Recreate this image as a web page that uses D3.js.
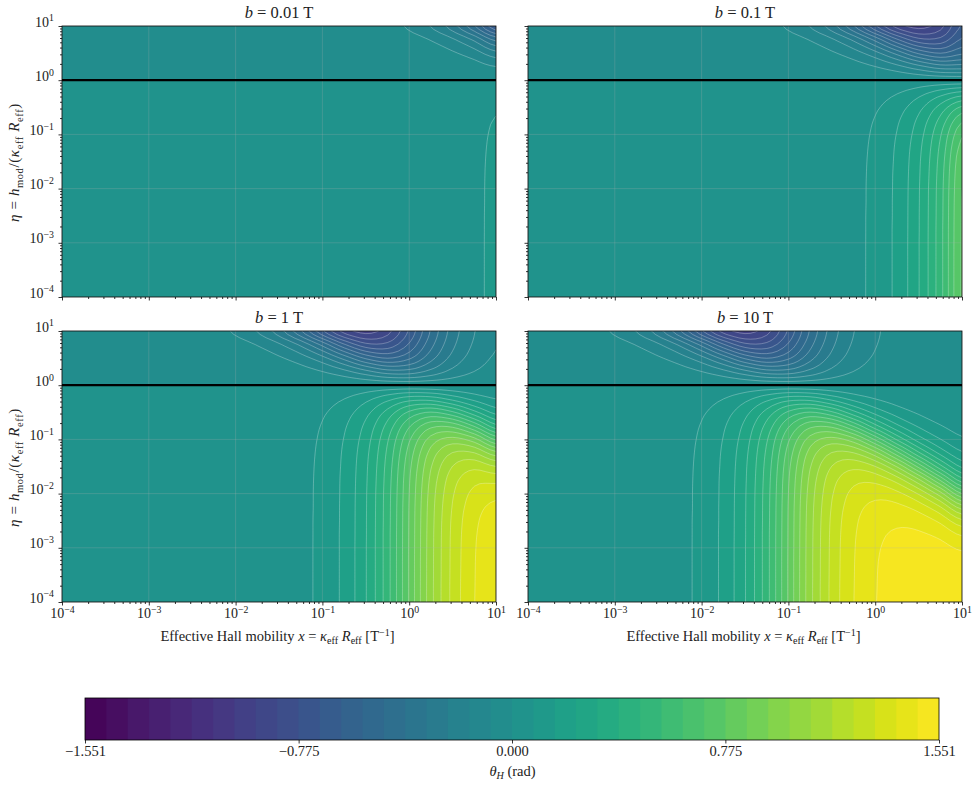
<!DOCTYPE html>
<html>
<head>
<meta charset="utf-8">
<script src="https://cdn.jsdelivr.net/npm/d3@7"></script>
<style>
  html, body { margin: 0; padding: 0; background: #fff; }
  svg { display: block; }
  text { font-family: "Liberation Serif", "DejaVu Serif", serif; fill: #222; }
  .domain { display: none; }
  .tick line { stroke: #000; stroke-width: 0.8; }
</style>
</head>
<body>
<svg id="fig" width="976" height="787"></svg>
<script>
// Field strengths of the four panels, as powers of ten and as titles.
const panelFieldExps = [-2, -1, 0, 1];
const panelFieldLabels = ["0.01", "0.1", "1", "10"];

// Sampling of the surface, in decades.
const etaExps = d3.range(21).map(i => -4 + i * 0.25);
const xExps = d3.range(21).map(i => -4 + i * 0.25);
const productExpStart = -3;   // first column of thetaRows: log10(b·x)
const productExpStep = 0.25;

// Hall angle in radians. Rows follow etaExps, columns run over log10(b·x) from -3 to 2.
const thetaRows = [
  [.001,.0018,.0032,.0056,.01,.0178,.0316,.0562,.0997,.176,.306,.512,.785,1.059,1.264,1.394,1.470,1.513,1.536,1.547,1.551],
  [.001,.0018,.0032,.0056,.01,.0178,.0316,.0562,.0997,.176,.306,.512,.785,1.059,1.264,1.393,1.469,1.511,1.533,1.543,1.543],
  [.001,.0018,.0032,.0056,.01,.0178,.0316,.0562,.0997,.176,.306,.512,.785,1.058,1.263,1.392,1.468,1.509,1.529,1.535,1.529],
  [.001,.0018,.0032,.0056,.01,.0178,.0316,.0562,.0997,.176,.306,.512,.785,1.058,1.262,1.391,1.466,1.505,1.521,1.521,1.505],
  [.001,.0018,.0032,.0056,.01,.0178,.0316,.0562,.0997,.176,.306,.512,.784,1.057,1.261,1.389,1.461,1.497,1.508,1.497,1.461],
  [.001,.0018,.0032,.0056,.01,.0178,.0316,.0561,.0996,.176,.305,.512,.783,1.056,1.259,1.385,1.453,1.483,1.483,1.453,1.385],
  [.001,.0018,.0032,.0056,.01,.0177,.0315,.056,.0995,.175,.305,.510,.782,1.053,1.255,1.377,1.440,1.458,1.440,1.377,1.255],
  [.001,.0018,.0031,.0056,.0099,.0177,.0314,.0558,.0988,.175,.304,.509,.780,1.049,1.246,1.363,1.415,1.415,1.363,1.246,1.049],
  [.001,.0018,.0031,.0056,.0099,.0176,.0313,.0556,.0987,.174,.303,.507,.775,1.041,1.232,1.339,1.371,1.339,1.232,1.041,.775],
  [.001,.0017,.0031,.0055,.0098,.0175,.031,.0552,.098,.173,.300,.502,.768,1.027,1.208,1.295,1.295,1.208,1.026,.767,.502],
  [.001,.0017,.0031,.0054,.0097,.0172,.0306,.0544,.0965,.170,.296,.494,.754,1.002,1.165,1.219,1.165,1.002,.754,.494,.296],
  [.0009,.0017,.003,.0053,.0094,.0168,.0298,.053,.094,.166,.288,.480,.729,.959,1.089,1.088,.959,.729,.481,.288,.166],
  [.0009,.0016,.0028,.0051,.009,.016,.0284,.0506,.0897,.158,.274,.456,.686,.883,.958,.883,.686,.456,.274,.158,.0897],
  [.0008,.0015,.0026,.0046,.0082,.0146,.026,.0462,.0818,.1445,.250,.412,.609,.752,.751,.609,.412,.250,.144,.0817,.046],
  [.0007,.0012,.0022,.0038,.0068,.0122,.0216,.0384,.068,.120,.2065,.3365,.479,.547,.479,.3365,.207,.120,.068,.0384,.0216],
  [.0004,.0008,.0014,.0025,.0044,.0078,.0138,.0246,.0435,.0764,.1304,.206,.2734,.2734,.206,.130,.0764,.0435,.0246,.0138,.0078],
  [0,0,0,0,0,0,0,0,0,0,0,0,0,0,0,0,0,0,0,0,0],
  [-.0008,-.0014,-.0025,-.0044,-.0078,-.0139,-.0246,-.0436,-.0765,-.1307,-.2063,-.2736,-.2736,-.2067,-.1304,-.0764,-.0435,-.0246,-.0138,-.0078,-.0044],
  [-.0022,-.0038,-.0068,-.0121,-.0216,-.0384,-.0679,-.1196,-.2065,-.3365,-.478,-.545,-.479,-.3365,-.2065,-.1196,-.068,-.0384,-.0216,-.0121,-.0068],
  [-.0046,-.0082,-.0146,-.026,-.0462,-.0819,-.1442,-.2498,-.4124,-.6095,-.752,-.751,-.609,-.4124,-.2499,-.144,-.0819,-.0463,-.026,-.0146,-.0082],
  [-.009,-.016,-.0284,-.0506,-.0897,-.1584,-.2745,-.4559,-.6857,-.8832,-.958,-.8827,-.6857,-.4566,-.2745,-.1583,-.0897,-.0507,-.0284,-.016,-.009]
];

// Contour levels and colour bar.
const thetaLimit = 1.551;
const bandCount = 40;
const colorbarTicks = [-1.551, -0.775, 0, 0.775, 1.551];
const majorDecades = [-4, -3, -2, -1, 0, 1];
const minorMultiples = [2, 3, 4, 5, 6, 7, 8, 9];

const levels = d3.range(bandCount + 1).map(i => -thetaLimit + i * 2 * thetaLimit / bandCount);
const bandColor = i => d3.interpolateViridis((i + 0.5) / bandCount);

const panelW = 434, panelH = 271;
const panelLefts = [62, 528], panelTops = [26, 331];
const subdiv = 4;   // contour cells per table cell, so band edges render as smooth curves
const svg = d3.select("#fig");

// Cubic resampling of one table line for contour rendering; passes through every stored value.
function resampleLine(vals) {
  const out = [];
  const at = i => vals[Math.min(vals.length - 1, Math.max(0, i))];
  for (let i = 0; i < vals.length - 1; i++) {
    for (let s = 0; s < subdiv; s++) {
      const t = s / subdiv, a = at(i - 1), b = at(i), c = at(i + 1), d = at(i + 2);
      out.push(b + 0.5 * t * (c - a + t * (2 * a - 5 * b + 4 * c - d + t * (3 * (b - c) + d - a))));
    }
  }
  out.push(vals[vals.length - 1]);
  return out;
}
function resampleTable(rows) {
  const wide = rows.map(resampleLine);
  const cols = wide[0].map((_, c) => resampleLine(wide.map(r => r[c])));
  return cols[0].map((_, j) => cols.map(col => col[j]));
}

// Writes a run of styled pieces into a text element: plain, italic, sub- and superscript.
function writeMath(textSel, pieces, size) {
  textSel.text(null).attr("font-size", size);
  let shift = 0;
  pieces.forEach(([str, kind]) => {
    const k = kind || "";
    const target = k.includes("sub") ? size * 0.24 : k.includes("sup") ? -size * 0.36 : 0;
    const ts = textSel.append("tspan").text(str).attr("dy", target - shift);
    shift = target;
    if (k.includes("i")) ts.attr("font-style", "italic");
    if (k.includes("sub") || k.includes("sup")) ts.attr("font-size", size * 0.7);
  });
}
const powerLabel = e => [["10"], [(e < 0 ? "\u2212" : "") + Math.abs(e), "sup"]];
const minorValues = majorDecades.slice(0, -1).flatMap(e => minorMultiples.map(m => m * Math.pow(10, e)));
const majorValues = majorDecades.map(e => Math.pow(10, e));

panelFieldExps.forEach((bExp, idx) => {
  const col = idx % 2, row = idx < 2 ? 0 : 1;
  const left = panelLefts[col], top = panelTops[row];
  const g = svg.append("g").attr("transform", `translate(${left},${top})`);
  const x = d3.scaleLog().domain([1e-4, 10]).range([0, panelW]);
  const y = d3.scaleLog().domain([1e-4, 10]).range([panelH, 0]);

  // This panel's window onto the table, looked up along b·x, then refined for drawing.
  const windowRows = etaExps.map((_, j) => xExps.map(xe => {
    const c = Math.round((xe + bExp - productExpStart) / productExpStep);
    return thetaRows[j][Math.max(0, c)];
  }));
  const fine = resampleTable(windowRows);
  const fineW = fine[0].length, fineH = fine.length;
  const contours = d3.contours().size([fineW, fineH]).smooth(true).thresholds(levels.slice(0, -1))(fine.flat());

  // Grid nodes sit at half-integer contour coordinates.
  const toPixel = ([cx, cy]) => [
    x(Math.pow(10, xExps[0] + (cx - 0.5) * 0.25 / subdiv)),
    y(Math.pow(10, etaExps[0] + (cy - 0.5) * 0.25 / subdiv))
  ];
  const contourPath = c => c.coordinates.map(poly => poly.map(ring =>
    "M" + ring.map(p => toPixel(p).map(v => v.toFixed(2)).join(",")).join("L") + "Z").join("")).join("");

  const clipId = `plot-clip-${idx}`;
  g.append("clipPath").attr("id", clipId).append("rect").attr("width", panelW).attr("height", panelH);
  const plot = g.append("g").attr("clip-path", `url(#${clipId})`);
  plot.append("rect").attr("width", panelW).attr("height", panelH).attr("fill", bandColor(0));
  plot.selectAll("path.band").data(contours).join("path").attr("class", "band")
    .attr("d", contourPath).attr("fill", (d, i) => bandColor(i)).attr("fill-rule", "evenodd");
  plot.selectAll("path.iso").data(contours.slice(1)).join("path").attr("class", "iso")
    .attr("d", contourPath).attr("fill", "none").attr("stroke", "#fff")
    .attr("stroke-opacity", 0.55).attr("stroke-width", 0.5);

  // Decade grid.
  majorValues.forEach(v => {
    plot.append("line").attr("class", "grid").attr("x1", x(v)).attr("x2", x(v)).attr("y2", panelH);
    plot.append("line").attr("class", "grid").attr("y1", y(v)).attr("y2", y(v)).attr("x2", panelW);
  });
  plot.selectAll("line.grid").attr("stroke", "#b0b0b0").attr("stroke-opacity", 0.3).attr("stroke-width", 0.8);

  // Unit ratio marker.
  plot.append("line").attr("x1", 0).attr("x2", panelW).attr("y1", y(1)).attr("y2", y(1))
    .attr("stroke", "#000").attr("stroke-width", 2.2);

  g.append("rect").attr("width", panelW).attr("height", panelH).attr("fill", "none")
    .attr("stroke", "#000").attr("stroke-width", 0.8);

  // Axes.
  const xAxisG = g.append("g").attr("transform", `translate(0,${panelH})`);
  xAxisG.append("g").call(d3.axisBottom(x).tickValues(minorValues).tickSize(2).tickFormat(""));
  const xMajor = xAxisG.append("g").call(d3.axisBottom(x).tickValues(majorValues).tickSize(3.5).tickPadding(3));
  const yAxisG = g.append("g");
  yAxisG.append("g").call(d3.axisLeft(y).tickValues(minorValues).tickSize(2).tickFormat(""));
  const yMajor = yAxisG.append("g").call(d3.axisLeft(y).tickValues(majorValues).tickSize(3.5).tickPadding(3));

  if (row === 1) {
    xMajor.selectAll(".tick text").each(function (d) {
      writeMath(d3.select(this).attr("text-anchor", "middle").attr("y", 16).attr("dy", null), powerLabel(Math.round(Math.log10(d))), 14);
    });
    writeMath(g.append("text").attr("x", panelW / 2 - 1.5).attr("y", panelH + 39).attr("text-anchor", "middle"), [
      ["Effective Hall mobility "], ["x", "i"], [" = "], ["\u03ba", "i"], ["eff", "sub"], [" "], ["R", "i"], ["eff", "sub"],
      [" [T"], ["\u22121", "sup"], ["]"]
    ], 14.5);
  } else {
    xMajor.selectAll(".tick text").remove();
  }

  if (col === 0) {
    yMajor.selectAll(".tick text").each(function (d) {
      writeMath(d3.select(this).attr("text-anchor", "end").attr("x", -8).attr("dy", "0.3em"), powerLabel(Math.round(Math.log10(d))), 14);
    });
    writeMath(g.append("text").attr("transform", `translate(-43,${panelH / 2 + 1}) rotate(-90)`).attr("text-anchor", "middle").attr("letter-spacing", 0.6), [
      ["\u03b7", "i"], [" = "], ["h", "i"], ["mod", "sub"], ["/("], ["\u03ba", "i"], ["eff", "sub"], [" "], ["R", "i"], ["eff", "sub"], [")"]
    ], 15);
  } else {
    yMajor.selectAll(".tick text").remove();
  }

  writeMath(g.append("text").attr("x", panelW / 2).attr("y", -8.5).attr("text-anchor", "middle"),
    [["b", "i"], [" = " + panelFieldLabels[idx] + " T"]], 16.5);
});

// Colour bar.
const cbLeft = 85, cbTop = 698, cbW = 854, cbH = 42;
const cbScale = d3.scaleLinear().domain([-thetaLimit, thetaLimit]).range([0, cbW]);
const cb = svg.append("g").attr("transform", `translate(${cbLeft},${cbTop})`);
cb.selectAll("rect.swatch").data(d3.range(bandCount)).join("rect").attr("class", "swatch")
  .attr("x", i => cbScale(levels[i]))
  .attr("width", i => cbScale(levels[i + 1]) - cbScale(levels[i]) + (i < bandCount - 1 ? 1 : 0))
  .attr("height", cbH).attr("fill", i => bandColor(i));
cb.append("rect").attr("width", cbW).attr("height", cbH).attr("fill", "none").attr("stroke", "#000").attr("stroke-width", 0.8);
const cbAxis = cb.append("g").attr("transform", `translate(0,${cbH})`)
  .call(d3.axisBottom(cbScale).tickValues(colorbarTicks).tickSize(3.5).tickPadding(3));
cbAxis.selectAll(".tick text").each(function (d) {
  writeMath(d3.select(this).attr("text-anchor", "middle").attr("y", 16).attr("dy", null),
    [[(d < 0 ? "\u2212" : "") + Math.abs(d).toFixed(3)]], 14.5);
});
writeMath(cb.append("text").attr("x", cbW / 2 + 0.5).attr("y", cbH + 36).attr("text-anchor", "middle"),
  [["\u03b8", "i"], ["H", "i sub"], [" (rad)"]], 14.5);
</script>
</body>
</html>
